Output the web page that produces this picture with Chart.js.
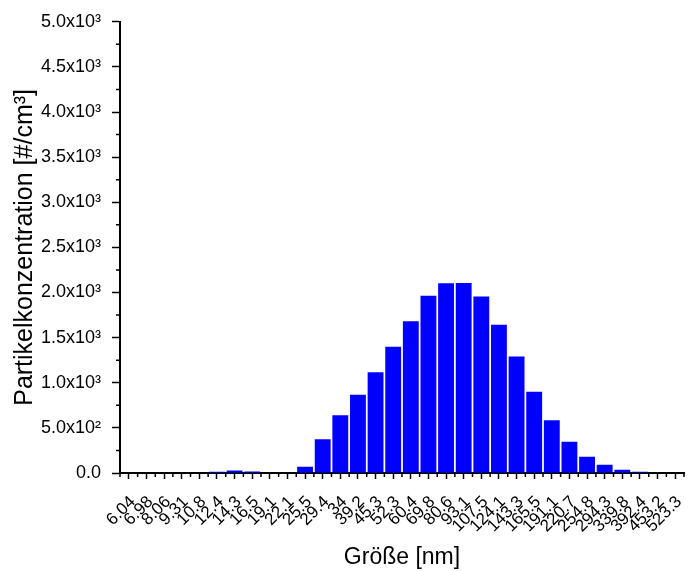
<!DOCTYPE html>
<html>
<head>
<meta charset="utf-8">
<script src="https://cdn.jsdelivr.net/npm/chart.js@4/dist/chart.umd.min.js"></script>
<style>
  html, body { margin: 0; padding: 0; background: #ffffff; }
  #wrap { width: 689px; height: 571px; }
</style>
</head>
<body>
<div id="wrap"><canvas id="c" width="689" height="571"></canvas></div>
<script>
const sizeLabels = ['6.04','6.98','8.06','9.31','10.8','12.4','14.3','16.5','19.1','22.1','25.5','29.4','34','39.2','45.3','52.3','60.4','69.8','80.6','93.1','107.5','124.1','143.3','165.5','191.1','220.7','254.8','294.3','339.8','392.4','453.2','523.3'];
const concentration = [0,0,0,0,0,15,28,18,0,0,68,374,639,866,1116,1398,1681,1963,2103,2105,1957,1644,1292,900,584,345,180,92,37,15,0,0];
const yTickLabels = {0:'0.0',500:'5.0x10²',1000:'1.0x10³',1500:'1.5x10³',2000:'2.0x10³',2500:'2.5x10³',3000:'3.0x10³',3500:'3.5x10³',4000:'4.0x10³',4500:'4.5x10³',5000:'5.0x10³'};
const xTitle = 'Größe [nm]';
const yTitle = 'Partikelkonzentration [#/cm³]';

const FONT = '"Liberation Sans", Arial, sans-serif';

const minorTicks = {
  id: 'minorTicks',
  afterDraw(chart) {
    const ctx = chart.ctx;
    const xs = chart.scales.x, ys = chart.scales.y;
    ctx.save();
    ctx.strokeStyle = '#000';
    ctx.lineWidth = 1.5;
    ctx.beginPath();
    for (let i = 0; i <= sizeLabels.length; i++) {
      const px = xs.getPixelForValue(i - 0.5);
      ctx.moveTo(px, xs.top);
      ctx.lineTo(px, xs.top + 4);
    }
    for (let v = 250; v < 5000; v += 500) {
      const py = ys.getPixelForValue(v);
      ctx.moveTo(ys.right - 4, py);
      ctx.lineTo(ys.right, py);
    }
    ctx.stroke();
    ctx.restore();
  }
};

new Chart(document.getElementById('c'), {
  type: 'bar',
  data: {
    labels: sizeLabels,
    datasets: [{
      data: concentration,
      backgroundColor: '#0000ff',
      borderWidth: 0,
      barPercentage: 0.9,
      categoryPercentage: 1.0
    }]
  },
  options: {
    responsive: false,
    devicePixelRatio: 1,
    animation: false,
    layout: { padding: { top: 19, right: 5, left: 0, bottom: 0 } },
    plugins: { legend: { display: false }, tooltip: { enabled: false } },
    scales: {
      x: {
        type: 'category',
        offset: true,
        grid: { display: true, offset: false, drawOnChartArea: false, drawTicks: true, tickLength: 6, tickColor: '#000', tickWidth: 1.5 },
        border: { display: true, color: '#000', width: 2 },
        ticks: {
          autoSkip: false, maxRotation: 45, minRotation: 45, padding: 13, labelOffset: 4,
          color: '#000', font: { family: FONT, size: 17 }
        },
        title: { display: true, text: xTitle, color: '#000', font: { family: FONT, size: 23 }, padding: { top: 0, bottom: 0 } },
        afterFit(scale) { scale.height = 98; scale.paddingLeft = 0; scale.paddingRight = 0; }
      },
      y: {
        type: 'linear',
        min: 0, max: 5000,
        grid: { display: true, drawOnChartArea: false, drawTicks: true, tickLength: 8, tickColor: '#000', tickWidth: 1.5 },
        border: { display: true, color: '#000', width: 2 },
        ticks: {
          stepSize: 500, padding: 11, color: '#000', font: { family: FONT, size: 18 },
          callback: (v) => yTickLabels[v] !== undefined ? yTickLabels[v] : ''
        },
        title: { display: true, text: yTitle, color: '#000', font: { family: FONT, size: 25 }, padding: { top: 10, bottom: 0 } },
        afterFit(scale) { scale.width = 120; }
      }
    }
  },
  plugins: [minorTicks]
});
</script>
</body>
</html>
